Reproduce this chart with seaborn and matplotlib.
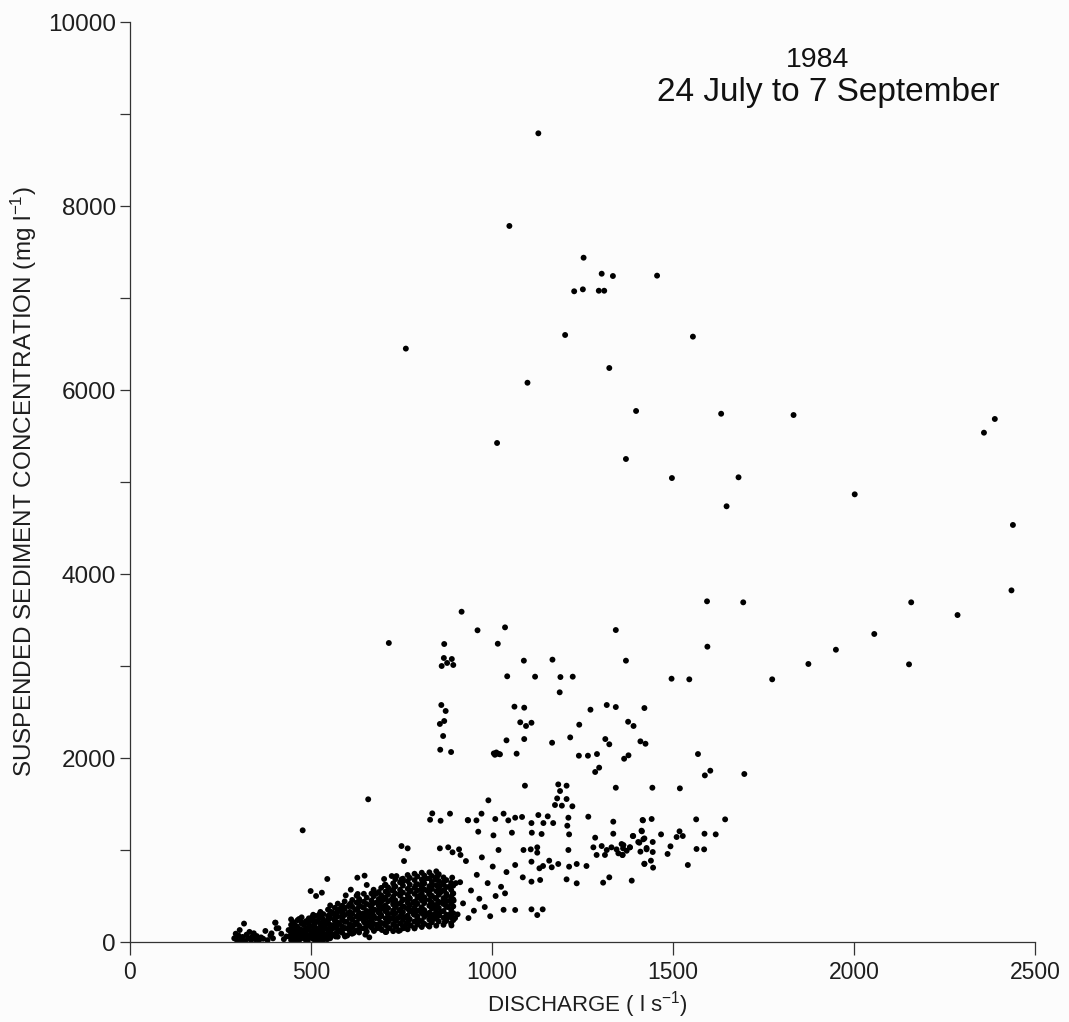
import matplotlib
matplotlib.use("Agg")
import matplotlib.pyplot as plt
import seaborn as sns
import pandas as pd

# ---------------- data ----------------
# high-concentration scattered points
high_q = [1128, 1048, 1253, 1303, 1334, 1456, 1227, 1251, 1295, 1310, 1202, 1555, 1324, 1098,
          762, 1398, 1370, 1497, 1014, 1633, 1833, 2389, 2359, 1681, 1648, 2002, 2439,
          1694, 2158, 2435, 2286, 2056, 1950, 1874, 2152, 1774]
high_c = [8790, 7783, 7438, 7264, 7239, 7243, 7073, 7094, 7079, 7079, 6598, 6580, 6239, 6079,
          6450, 5772, 5250, 5043, 5424, 5742, 5728, 5685, 5536, 5051, 4736, 4866, 4533,
          3692, 3692, 3822, 3554, 3348, 3177, 3022, 3018, 2855]

# mid-range points (about 1800 - 3600 mg/l)
mid_q = [715, 916, 868, 867, 889, 876, 861, 893, 960, 1036, 1016, 1088, 1167, 1042, 1119, 1189,
         1223, 1187, 1342, 1370, 860, 872, 868, 856, 865, 857, 887, 1062, 1089, 1078, 1094,
         1109, 1040, 1089, 1166, 1005, 1012, 1018, 1008, 1022, 1068, 1216, 1241, 1272, 1317,
         1342, 1376, 1313, 1324, 1240, 1265, 1290, 1365, 1377, 1285, 1296, 1594, 1595, 1496,
         1545, 1421, 1391, 1410, 1424, 1569, 1588, 1603, 1697]
mid_c = [3250, 3590, 3239, 3087, 3076, 3033, 3000, 3011, 3388, 3420, 3242, 3058, 3069, 2888, 2884, 2880,
         2884, 2714, 3391, 3058, 2576, 2511, 2402, 2370, 2239, 2090, 2065, 2558, 2547, 2388, 2348,
         2383, 2192, 2206, 2166, 2050, 2060, 2045, 2035, 2040, 2047, 2224, 2362, 2525, 2576,
         2554, 2394, 2206, 2149, 2025, 2025, 2043, 1992, 2029, 1848, 1895, 3703, 3210, 2862,
         2855, 2543, 2348, 2181, 2155, 2043, 1811, 1862, 1826]

# points between about 300 and 1800 mg/l, discharge above 950 l/s
upper_q = [1091, 1183, 1206, 1188, 1342, 990, 1180, 1206, 1174, 1193, 1222, 971, 1032,
           934, 957, 1009, 1045, 1064, 1083, 1109, 1128, 1154, 1142, 1169, 1211, 1266, 1335, 1416,
           962, 1004, 1055, 1110, 1137, 1208, 1213, 1285, 1335, 1389, 1413,
           1087, 1107, 1125, 1125, 1211, 1280, 1303, 1317, 1330, 1344, 1358, 1349, 1362, 1381,
           1404, 1418, 1427, 1289, 1312, 1360,
           1109, 1158, 1131, 1141, 1165, 1183, 1213, 1234, 1261, 1421, 1064,
           1085, 1109, 1133, 1206, 1234, 1307, 1324, 1386, 1064, 1109, 1140, 1125, 1036,
           1443, 1519, 1417, 1441, 1564, 1644, 1414, 1467, 1518, 1510, 1527, 1587, 1618,
           1390, 1407, 1421, 1444, 1363, 1381, 1372, 1361, 1410, 1427, 1444, 1493, 1485,
           1565, 1586, 1439, 1421, 1445, 1541]
upper_c = [1699, 1713, 1699, 1641, 1677, 1540, 1561, 1554, 1489, 1482, 1475, 1395, 1395,
           1322, 1322, 1337, 1322, 1351, 1359, 1293, 1380, 1366, 1293, 1293, 1351, 1362, 1308, 1326,
           1199, 1159, 1188, 1188, 1174, 1264, 1170, 1134, 1177, 1152, 1210,
           1000, 1007, 1029, 971, 1000, 1029, 1043, 1000, 1029, 1007, 1065, 964, 1018, 1029,
           1087, 1116, 1007, 946, 946, 946,
           873, 884, 801, 826, 812, 848, 819, 848, 826, 848, 837,
           703, 656, 674, 681, 638, 645, 703, 667, 348, 355, 355, 293, 529,
           1677, 1670, 1322, 1337, 1333, 1333, 1203, 1170, 1203, 1141, 1152, 1177, 1170,
           1152, 1079, 1126, 1087, 1054, 1029, 992, 946, 982, 1022, 978, 1040, 957,
           1011, 1007, 884, 851, 808, 837]

# sparse points just above the dense band
edge_q = [658, 477, 835, 884, 829, 858, 933, 750, 767, 757, 856, 879, 891, 909, 913,
          499, 514, 530, 545, 628, 648, 654, 610, 596, 629, 680, 702, 704, 723, 736, 750,
          401, 405, 391, 661, 612]
edge_c = [1551, 1214, 1398, 1395, 1329, 1318, 1326, 1043, 1018, 880, 1018, 1029, 975, 1007, 946,
          554, 500, 536, 685, 699, 721, 620, 569, 507, 522, 525, 685, 620, 717, 717, 681,
          210, 148, 94, 51, 94]

# dense band of low-flow points (first pass)
band_q = [288, 292, 296, 300, 303, 307, 311, 315, 318, 322, 326, 330, 334, 338, 342, 346, 350, 356,
          362, 368, 374, 380, 388, 395, 402, 410, 418, 425, 432, 438,
          442, 446, 450, 452, 455, 458, 461, 464, 467, 470, 473, 476, 479, 482, 485, 488, 491, 494,
          497, 500, 503, 506, 509, 512, 515, 518, 521, 524, 527, 530, 533, 536, 539, 542, 545, 548,
          551, 554, 557, 560,
          444, 449, 456, 463, 469, 475, 481, 487, 493, 499, 505, 511, 517, 523, 529, 535, 541, 547,
          553, 559,
          562, 566, 570, 574, 578, 582, 586, 590, 594, 598, 602, 606, 610, 614, 618, 622, 626, 630,
          634, 638, 642, 646, 650, 654, 658, 662, 666, 670, 674, 678, 682, 686, 690, 694, 698,
          564, 572, 580, 588, 596, 604, 612, 620, 628, 636, 644, 652, 660, 668, 676, 684, 692, 700,
          568, 584, 600, 616, 632, 648, 664, 680, 696,
          702, 706, 710, 714, 718, 722, 726, 730, 734, 738, 742, 746, 750, 754, 758, 762, 766, 770,
          774, 778, 782, 786, 790, 794, 798,
          704, 712, 720, 728, 736, 744, 752, 760, 768, 776, 784, 792, 800,
          708, 724, 740, 756, 772, 788,
          802, 806, 810, 814, 818, 822, 826, 830, 834, 838, 842, 846, 850, 854, 858, 862, 866, 870,
          874, 878, 882, 886, 890, 894, 898,
          804, 812, 820, 828, 836, 844, 852, 860, 868, 876, 884, 892, 900,
          808, 824, 840, 856, 872, 888,
          905, 912, 920, 928, 935, 942, 950, 958, 965, 972, 980, 988, 995, 1002, 1010, 1018, 1025,
          1032, 1040]
band_c = [40, 90, 15, 70, 130, 25, 55, 200, 10, 80, 45, 110, 20, 60, 95, 30, 65, 15,
          50, 35, 120, 20, 70, 40, 210, 150, 90, 30, 60, 130,
          60, 140, 20, 200, 90, 40, 170, 110, 250, 30, 70, 130, 190, 50, 100, 220, 10, 160,
          80, 120, 270, 40, 190, 60, 140, 230, 90, 20, 170, 110, 250, 60, 150, 200, 30, 100,
          280, 130, 70, 180,
          110, 70, 180, 30, 140, 210, 80, 150, 40, 230, 110, 160, 50, 300, 200, 90, 40, 240,
          130, 320,
          150, 250, 90, 330, 200, 120, 280, 380, 60, 220, 310, 160, 420, 250, 100, 350, 200, 290,
          450, 150, 380, 260, 80, 320, 210, 400, 170, 300, 120, 260, 430, 340, 200, 280, 380,
          300, 180, 360, 240, 150, 390, 300, 190, 360, 260, 310, 160, 280, 220, 350, 150, 300, 460,
          60, 110, 70, 180, 120, 210, 340, 190, 130,
          200, 380, 550, 270, 150, 460, 320, 600, 230, 410, 120, 520, 300, 660, 380, 190, 470, 250,
          560, 340, 430, 150, 620, 280, 500,
          480, 310, 250, 420, 170, 340, 450, 270, 360, 180, 300, 420, 230,
          110, 560, 260, 150, 480, 350,
          350, 580, 200, 460, 690, 300, 520, 410, 620, 250, 480, 360, 720, 290, 540, 430, 650, 220,
          500, 380, 600, 310, 700, 450, 260,
          480, 330, 560, 250, 400, 680, 430, 330, 560, 270, 450, 530, 640,
          650, 180, 300, 610, 400, 180,
          300, 650, 420, 880, 260, 560, 340, 730, 470, 920, 380, 640, 280, 820, 500, 1000, 600,
          350, 760]

# dense band, second pass: discharge of each column and the concentrations read in it
dense_q = [445, 452, 463, 474, 486, 494, 506, 513, 526, 534, 547, 553, 566, 574, 586, 593,
           607, 614, 626, 633, 646, 654, 667, 673, 687, 694, 706, 713, 727, 733, 746, 754,
           767, 773, 786, 794, 806, 813, 827, 834, 846, 853, 866, 874, 887, 893]
dense_c = [[22, 108, 187, 246], [55, 133, 214], [12, 84, 158, 237], [43, 117, 203, 268],
           [18, 73, 148, 226], [62, 139, 193, 257], [33, 97, 171, 238, 296],
           [8, 82, 147, 213, 283], [52, 124, 188, 262, 327], [24, 98, 166, 232, 303],
           [68, 142, 207, 284, 352], [41, 113, 186, 258, 334, 398], [87, 163, 228, 305, 372],
           [58, 134, 212, 277, 348, 417], [103, 168, 243, 318, 394],
           [72, 151, 219, 293, 358, 441], [118, 193, 262, 327, 408],
           [91, 158, 243, 307, 383, 457], [127, 212, 276, 352, 428, 503],
           [104, 178, 253, 318, 402, 468], [147, 224, 297, 373, 438, 524],
           [113, 188, 263, 337, 413, 482], [158, 243, 308, 384, 452, 527],
           [132, 197, 283, 347, 423, 498, 568], [168, 252, 318, 393, 467, 543],
           [143, 208, 292, 357, 433, 507, 588], [108, 183, 257, 334, 398, 483, 547, 622],
           [152, 218, 303, 368, 443, 517, 593], [118, 193, 268, 343, 408, 493, 563, 637],
           [163, 228, 312, 377, 453, 527, 603, 683], [128, 203, 277, 353, 418, 503, 568, 648],
           [172, 238, 323, 388, 463, 537, 613, 688], [138, 213, 287, 363, 428, 513, 578, 662, 728],
           [183, 247, 333, 398, 473, 548, 623, 697], [148, 223, 297, 373, 437, 523, 588, 673, 742],
           [188, 263, 337, 413, 478, 562, 628, 712], [163, 228, 313, 378, 453, 527, 603, 678, 753],
           [197, 273, 347, 423, 487, 573, 637, 722], [168, 243, 318, 393, 458, 543, 607, 692, 757],
           [213, 277, 363, 428, 503, 577, 653, 718], [178, 253, 327, 403, 468, 553, 617, 703, 768],
           [223, 287, 372, 437, 513, 587, 663, 737], [187, 263, 337, 413, 477, 563, 627, 702],
           [233, 297, 383, 447, 523, 597, 673], [203, 267, 353, 417, 493, 567, 643],
           [238, 313, 387, 463, 527, 613]]

x_ticks = [0, 500, 1000, 1500, 2000, 2500]
y_ticks = [0, 2000, 4000, 6000, 8000, 10000]
y_minor = [1000, 3000, 5000, 7000, 9000]
title_lines = ["1984", "24 July to 7 September"]

dense_pairs = [(q, c) for q, cs in zip(dense_q, dense_c) for c in cs]
df = pd.DataFrame({
    "discharge": high_q + mid_q + upper_q + edge_q + band_q + [p[0] for p in dense_pairs],
    "conc": high_c + mid_c + upper_c + edge_c + band_c + [p[1] for p in dense_pairs],
})

# ---------------- figure ----------------
sns.set_theme(style="ticks")
plt.rcParams["font.family"] = ["Liberation Sans", "DejaVu Sans"]
plt.rcParams["mathtext.fontset"] = "custom"
plt.rcParams["mathtext.rm"] = "Liberation Sans"
plt.rcParams["mathtext.it"] = "Liberation Sans"
bg = "#fcfcfc"
ink = "#1e1e1e"

fig = plt.figure(figsize=(10.69, 10.22), dpi=100, facecolor=bg)
ax = fig.add_axes([130 / 1069, 1 - 942 / 1022, 905 / 1069, 920 / 1022])
ax.set_facecolor(bg)

sns.scatterplot(data=df, x="discharge", y="conc", ax=ax, s=18, color="black",
                edgecolor="none", linewidth=0, legend=False)

ax.set_xlim(0, 2500)
ax.set_ylim(0, 10000)
ax.set_xticks(x_ticks)
ax.set_yticks(y_ticks)
ax.set_yticks(y_minor, minor=True)
ax.set_xticklabels([str(t) for t in x_ticks], fontsize=16.5)
ax.set_yticklabels([str(t) for t in y_ticks], fontsize=17.5)
ax.tick_params(axis="both", which="both", direction="out", color="#333333", width=0.9,
               labelcolor=ink)
ax.tick_params(axis="y", which="both", length=7, pad=3)
ax.tick_params(axis="x", which="both", length=9, pad=5)
for s in ["left", "bottom"]:
    ax.spines[s].set_color("#333333")
    ax.spines[s].set_linewidth(0.9)
sns.despine(ax=ax)

ax.set_xlabel(r"DISCHARGE ( l s$^{-1}$)", fontsize=16, color=ink)
ax.set_ylabel(r"SUSPENDED SEDIMENT CONCENTRATION (mg l$^{-1}$)", fontsize=17.5, color=ink)
ax.xaxis.set_label_coords(0.506, -0.051)
ax.yaxis.set_label_coords(-0.101, 0.5)

fig.text(818 / 1069, 1 - 60 / 1022, title_lines[0], ha="center", va="center", fontsize=20.5,
         color="#111111")
fig.text(828 / 1069, 1 - 92 / 1022, title_lines[1], ha="center", va="center", fontsize=24,
         color="#111111")

fig.savefig("out.png", dpi=100, facecolor=bg)
